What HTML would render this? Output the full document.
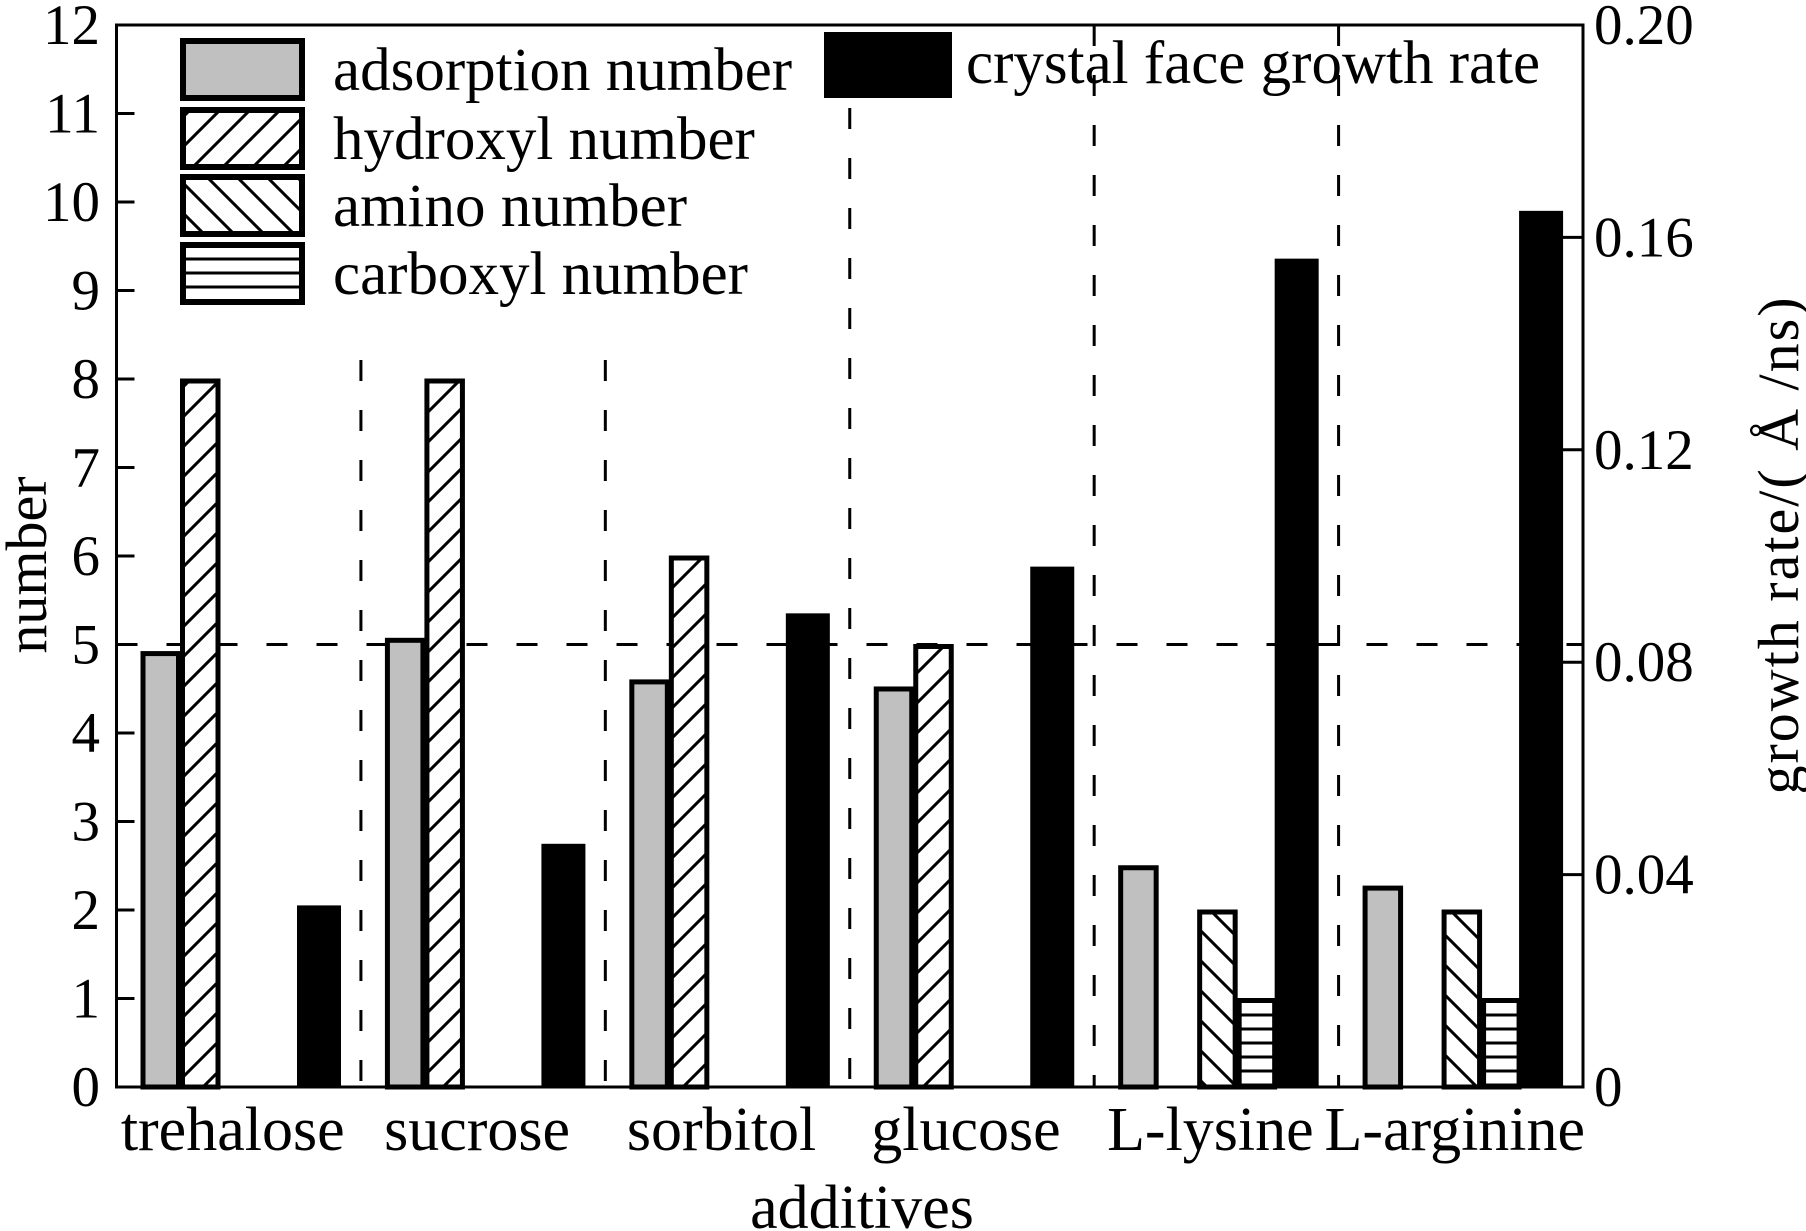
<!DOCTYPE html>
<html><head><meta charset="utf-8"><style>
html,body{margin:0;padding:0;background:#fff;}
svg{display:block;font-family:"Liberation Serif","DejaVu Serif",serif;}
</style></head><body>
<svg id="chart" width="1806" height="1231" viewBox="0 0 1806 1231" xmlns="http://www.w3.org/2000/svg">
<defs>
<pattern id="pHyd" patternUnits="userSpaceOnUse" width="30" height="30"><rect width="30" height="30" fill="#fff"/><path d="M-5,35 L35,-5 M-20,20 L20,-20 M10,50 L50,10" stroke="#000" stroke-width="3"/></pattern>
<pattern id="pAmi" patternUnits="userSpaceOnUse" width="30" height="30"><rect width="30" height="30" fill="#fff"/><path d="M-5,-5 L35,35 M-20,10 L20,50 M10,-20 L50,20" stroke="#000" stroke-width="3"/></pattern>
<pattern id="pCar" patternUnits="userSpaceOnUse" width="14" height="14"><rect width="14" height="14" fill="#fff"/><path d="M0,7 L14,7" stroke="#000" stroke-width="3"/></pattern>
</defs>
<g id="grid"></g>
<g id="bars"></g>
<g id="axes"></g>
<g id="legend"></g>
</svg>
<script>
const categories = ["trehalose","sucrose","sorbitol","glucose","L-lysine","L-arginine"];
const adsorption = [4.92, 5.07, 4.6, 4.52, 2.5, 2.27];
const hydroxyl = [8, 8, 6, 5, 0, 0];
const amino = [0, 0, 0, 0, 2, 2];
const carboxyl = [0, 0, 0, 0, 1, 1];
const growthRate = [0.0342, 0.0458, 0.0892, 0.098, 0.156, 0.165];
const leftTicks = [0,1,2,3,4,5,6,7,8,9,10,11,12];
const rightTicks = [0, 0.04, 0.08, 0.12, 0.16, 0.20];
const rightTickLabels = ["0","0.04","0.08","0.12","0.16","0.20"];

const NS = "http://www.w3.org/2000/svg";
const X0 = 116.5, X1 = 1583, Y0 = 1087, Y1 = 25;
const groupW = (X1 - X0) / categories.length;
const yL = v => Y0 - (v / 12) * (Y0 - Y1);
const yR = v => Y0 - (v / 0.2) * (Y0 - Y1);
const barX = (g, k) => X0 + g * groupW + 24.5 + k * 39.5;
function mk(tag, attrs, parent) {
  const e = document.createElementNS(NS, tag);
  for (const k in attrs) e.setAttribute(k, attrs[k]);
  parent.appendChild(e);
  return e;
}
const gGrid = document.getElementById('grid');
const gBars = document.getElementById('bars');
const gAxes = document.getElementById('axes');
const gLeg = document.getElementById('legend');

let hl = mk('line', {x1: X0, x2: X1, y1: yL(5), y2: yL(5), stroke: '#000', 'stroke-width': 3, 'stroke-dasharray': '21 29'}, gGrid);


const sepStart = [360, 360, 108, 25, 25];
for (let i = 1; i < categories.length; i++) {
  const x = X0 + i * groupW;
  const l = mk('line', {x1: x, x2: x, y1: sepStart[i - 1], y2: Y0, stroke: '#000', 'stroke-width': 3, 'stroke-dasharray': '21 29'}, gGrid);
  
  
}

function outlinedBar(g, k, v, fill, name) {
  if (!v) return;
  const x = barX(g, k), y = yL(v);
  const r = mk('rect', {x: x + 2, y: y + 2, width: 35.5, height: Y0 - y - 2, fill: fill, stroke: '#000', 'stroke-width': 5}, gBars);
  
  
}
categories.forEach((c, g) => {
  outlinedBar(g, 0, adsorption[g], '#c0c0c0', 'bar-adsorption-' + c.toLowerCase());
  outlinedBar(g, 1, hydroxyl[g], 'url(#pHyd)', 'bar-hydroxyl-' + c.toLowerCase());
  outlinedBar(g, 2, amino[g], 'url(#pAmi)', 'bar-amino-' + c.toLowerCase());
  outlinedBar(g, 3, carboxyl[g], 'url(#pCar)', 'bar-carboxyl-' + c.toLowerCase());
  const y = yR(growthRate[g]);
  const b = mk('rect', {x: barX(g, 4) - 2, y: y, width: 44, height: Y0 - y, fill: '#000'}, gBars);
  
  
  const t = mk('text', {x: X0 + g * groupW + groupW / 2 - 6, y: 1150, 'font-size': 62, 'text-anchor': 'middle'}, gAxes);
  t.textContent = c;
  
  
});

let fr = mk('rect', {x: X0, y: Y1, width: X1 - X0, height: Y0 - Y1, fill: 'none', stroke: '#000', 'stroke-width': 3}, gAxes);


leftTicks.forEach(v => {
  const y = yL(v);
  const tk = mk('line', {x1: X0, x2: X0 + 18, y1: y, y2: y, stroke: '#000', 'stroke-width': 3}, gAxes);
  
  
  const t = mk('text', {x: 100, y: y + 19, 'font-size': 57, 'text-anchor': 'end'}, gAxes);
  t.textContent = v;
  
  
});
rightTicks.forEach((v, i) => {
  const y = yR(v);
  const tk = mk('line', {x1: X1 - 20, x2: X1, y1: y, y2: y, stroke: '#000', 'stroke-width': 3}, gAxes);
  
  
  const t = mk('text', {x: 1594, y: y + 19, 'font-size': 57}, gAxes);
  t.textContent = rightTickLabels[i];
  
  
});
let yt = mk('text', {x: 0, y: 0, 'font-size': 58, 'text-anchor': 'middle', transform: 'translate(46,565) rotate(-90)'}, gAxes);
yt.textContent = 'number';


let yr = mk('text', {x: 0, y: 0, 'font-size': 58, 'text-anchor': 'middle', 'letter-spacing': 2, transform: 'translate(1798,545) rotate(-90)'}, gAxes);
yr.textContent = 'growth rate/( Å /ns)';


let xt = mk('text', {x: 862, y: 1228, 'font-size': 62, 'text-anchor': 'middle'}, gAxes);
xt.textContent = 'additives';



const legFills = ['#c0c0c0', 'url(#pHyd)', 'url(#pAmi)', 'url(#pCar)'];
const legLabels = ['adsorption number', 'hydroxyl number', 'amino number', 'carboxyl number'];
const legY = [38, 107, 174, 242];
legLabels.forEach((lab, i) => {
  const r = mk('rect', {x: 183, y: legY[i] + 3, width: 119, height: 57, fill: legFills[i], stroke: '#000', 'stroke-width': 6}, gLeg);
  
  
  const t = mk('text', {x: 333, y: legY[i] + 52, 'font-size': 61}, gLeg);
  t.textContent = lab;
  
  
});
let lb = mk('rect', {x: 824, y: 32, width: 128, height: 66, fill: '#000'}, gLeg);


let lt = mk('text', {x: 966, y: 83, 'font-size': 61}, gLeg);
lt.textContent = 'crystal face growth rate';


</script>
</body></html>
